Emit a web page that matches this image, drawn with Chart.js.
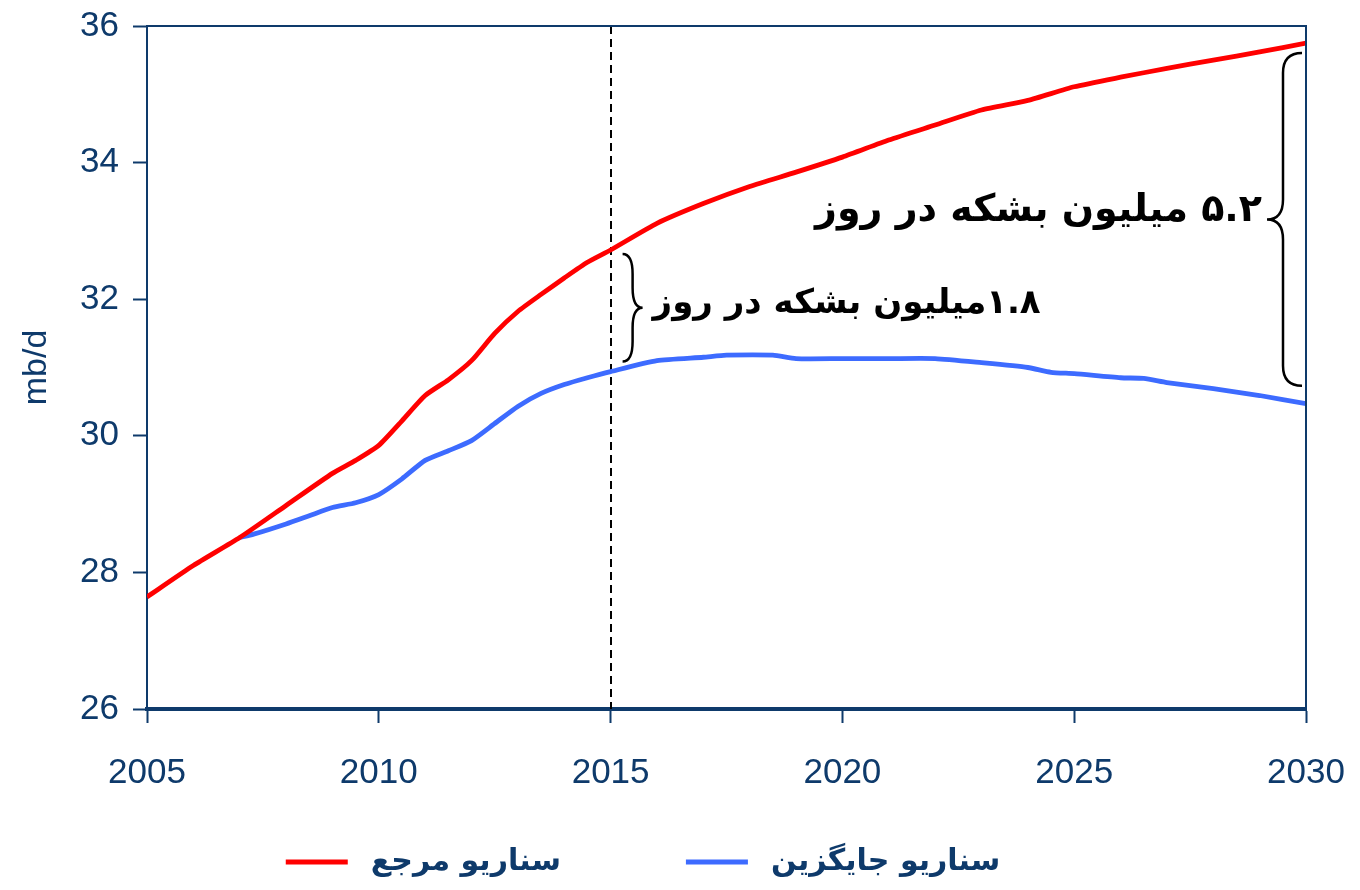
<!DOCTYPE html>
<html>
<head>
<meta charset="utf-8">
<script src="https://cdn.jsdelivr.net/npm/chart.js@4.4.1/dist/chart.umd.min.js"></script>
<style>
html,body{margin:0;padding:0;background:#fff;}
canvas{display:block;}
</style>
</head>
<body>
<canvas id="c" width="1360" height="890"></canvas>
<script>
// ---- data ----
const refYears  = [2005,2006,2007,2008,2009,2009.5,2010,2010.5,2011,2011.5,2012,2012.5,2013,2013.5,2014,2014.5,2015,2016,2017,2018,2019,2020,2021,2022,2023,2024,2025,2026,2027,2028,2029,2030];
const refValues = [27.64,28.10,28.51,28.98,29.45,29.64,29.86,30.22,30.59,30.82,31.10,31.50,31.82,32.07,32.31,32.54,32.72,33.11,33.40,33.65,33.86,34.08,34.33,34.55,34.77,34.91,35.11,35.25,35.38,35.50,35.62,35.75];
const altYears  = [2007,2007.3,2008,2008.5,2009,2009.5,2010,2010.5,2011,2011.5,2012,2012.5,2013,2013.5,2014,2014.5,2015,2016,2017,2017.5,2018.5,2019,2020,2021,2022,2023,2024,2024.5,2025,2026,2026.5,2027,2028,2029,2030];
const altValues = [28.51,28.56,28.71,28.83,28.95,29.02,29.14,29.37,29.64,29.78,29.93,30.18,30.43,30.62,30.75,30.85,30.94,31.10,31.15,31.18,31.18,31.13,31.13,31.13,31.13,31.07,31.00,30.93,30.91,30.85,30.84,30.78,30.69,30.59,30.47];
const seriesNames = ['سناریو مرجع', 'سناریو جایگزین'];
const xTickValues = [2005,2010,2015,2020,2025,2030];
const yTickValues = [26,28,30,32,34,36];
const markerYear = 2015;
const endYear = 2030;
const gapLabels = ['۱.۸میلیون بشکه در روز', '۵.۲ میلیون بشکه در روز'];
const yTitle = 'mb/d';

const NAVY = '#0e3a6b';
const RED = '#ff0000';
const BLUE = '#3d6bff';

function valAt(years, vals, yr){ return vals[years.indexOf(yr)]; }

function brace(ctx, x, y1, y2, dir, arm, tip){
  const ym = (y1 + y2) / 2, r = Math.min(20, (y2 - y1) / 4);
  ctx.beginPath();
  ctx.moveTo(x - dir*arm, y1);
  ctx.quadraticCurveTo(x, y1, x, y1 + r);
  ctx.lineTo(x, ym - r);
  ctx.quadraticCurveTo(x, ym, x + dir*tip, ym);
  ctx.quadraticCurveTo(x, ym, x, ym + r);
  ctx.lineTo(x, y2 - r);
  ctx.quadraticCurveTo(x, y2, x - dir*arm, y2);
  ctx.stroke();
}

const annotPlugin = {
  id: 'annot',
  beforeDatasetsDraw(chart){
    const {ctx, chartArea:a, scales:{x}} = chart;
    ctx.save();
    const xm = Math.round(x.getPixelForValue(markerYear));
    ctx.setLineDash([8,5]);
    ctx.strokeStyle = '#000';
    ctx.lineWidth = 2;
    ctx.beginPath(); ctx.moveTo(xm, a.top); ctx.lineTo(xm, a.bottom); ctx.stroke();
    ctx.restore();
  },
  afterDatasetsDraw(chart){
    const {ctx, chartArea:a, scales:{x, y}} = chart;
    ctx.save();
    // frame top & right
    ctx.strokeStyle = NAVY; ctx.lineWidth = 2;
    ctx.beginPath(); ctx.moveTo(a.left, a.top); ctx.lineTo(a.right, a.top); ctx.lineTo(a.right, a.bottom); ctx.stroke();

    ctx.strokeStyle = '#000'; ctx.lineWidth = 2.5;
    // brace at marker year
    const xm = x.getPixelForValue(markerYear);
    const r1 = y.getPixelForValue(valAt(refYears, refValues, markerYear));
    const b1 = y.getPixelForValue(valAt(altYears, altValues, markerYear));
    const bx1 = xm + 22;
    brace(ctx, bx1, r1 + 4, b1 - 10, 1, 10, 10);
    const ym1 = (r1 + 4 + b1 - 10) / 2;
    // brace at end year
    const xe = x.getPixelForValue(endYear);
    const r2 = y.getPixelForValue(valAt(refYears, refValues, endYear));
    const b2 = y.getPixelForValue(valAt(altYears, altValues, endYear));
    const bx2 = xe - 23;
    brace(ctx, bx2, r2 + 10, b2 - 18, -1, 19, 16);
    const ym2 = (r2 + 10 + b2 - 18) / 2;

    ctx.fillStyle = '#000';
    ctx.direction = 'rtl';
    ctx.textBaseline = 'middle';
    ctx.font = 'bold 34px "DejaVu Sans"';
    ctx.textAlign = 'left';
    ctx.fillText(gapLabels[0], bx1 + 20, ym1 - 4);
    ctx.font = 'bold 38px "DejaVu Sans"';
    ctx.textAlign = 'right';
    ctx.fillText(gapLabels[1], bx2 - 21, ym2 - 8);
    ctx.restore();
  },
  afterDraw(chart){
    // legend drawn from the datasets
    const {ctx} = chart;
    const ds = chart.data.datasets;
    ctx.save();
    ctx.font = 'bold 30px "DejaVu Sans"';
    ctx.direction = 'rtl';
    ctx.textBaseline = 'middle';
    ctx.textAlign = 'left';
    const lineW = 62, gap = 23, itemGap = 125;
    const widths = ds.map(d => ctx.measureText(d.label).width);
    let total = 0;
    widths.forEach((w,i) => { total += lineW + gap + w + (i ? itemGap : 0); });
    let cx = 643 - total/2;
    const ly = 862;
    ds.forEach((d,i) => {
      ctx.strokeStyle = d.borderColor; ctx.lineWidth = 5;
      ctx.beginPath(); ctx.moveTo(cx, ly); ctx.lineTo(cx + lineW, ly); ctx.stroke();
      cx += lineW + gap;
      ctx.fillStyle = NAVY;
      ctx.fillText(d.label, cx, ly);
      cx += widths[i] + itemGap;
    });
    ctx.restore();
  }
};

const tickFont = {family: '"Liberation Sans", Arial, sans-serif', size: 35};

new Chart(document.getElementById('c'), {
  type: 'line',
  data: {
    datasets: [
      {label: seriesNames[0], data: refYears.map((v,i)=>({x:v, y:refValues[i]})), borderColor: RED, backgroundColor: RED, borderWidth: 4.8, pointRadius: 0, tension: 0.2},
      {label: seriesNames[1], data: altYears.map((v,i)=>({x:v, y:altValues[i]})), borderColor: BLUE, backgroundColor: BLUE, borderWidth: 4.8, pointRadius: 0, tension: 0.2}
    ]
  },
  options: {
    responsive: false,
    animation: false,
    layout: {padding: {left: 0, right: 54, top: 26, bottom: 81}},
    plugins: {legend: {display: false}, tooltip: {enabled: false}},
    scales: {
      x: {
        type: 'linear', min: 2005, max: 2030,
        afterBuildTicks: s => { s.ticks = xTickValues.map(v => ({value: v})); },
        afterFit: s => { s.height = 100; s.paddingLeft = 0; s.paddingRight = 0; },
        ticks: {callback: v => String(v), color: NAVY, font: tickFont, padding: 29, maxRotation: 0},
        grid: {drawOnChartArea: false, drawTicks: true, tickLength: 14, tickColor: NAVY, tickWidth: 2},
        border: {color: NAVY, width: 4}
      },
      y: {
        min: 26, max: 36,
        afterBuildTicks: s => { s.ticks = yTickValues.map(v => ({value: v})); },
        afterFit: s => { s.width = 147; s.paddingTop = 0; s.paddingBottom = 0; },
        ticks: {color: NAVY, font: tickFont, padding: 14},
        grid: {drawOnChartArea: false, drawTicks: true, tickLength: 14, tickColor: NAVY, tickWidth: 2},
        border: {color: NAVY, width: 2},
        title: {display: true, text: yTitle, color: NAVY, font: {family: '"Liberation Sans", Arial, sans-serif', size: 34}, padding: {top: 16, bottom: 0}}
      }
    }
  },
  plugins: [annotPlugin]
});
</script>
</body>
</html>
